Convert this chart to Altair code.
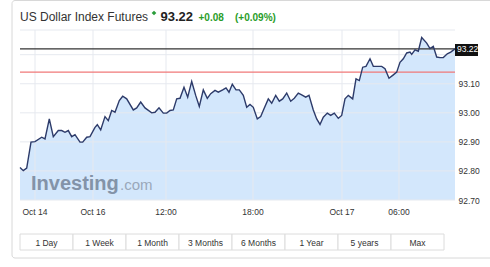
import altair as alt
import pandas as pd

# ---- data ----
t = [0, 3.3, 6.7, 11, 15, 21.7, 25, 29.3, 33.3, 38.3, 41.7, 45, 48.3, 51.7, 55,
     60, 62.7, 66.7, 70, 75, 77.3, 80.7, 85, 88.3, 91.7, 95, 99.3, 102.7, 106.7, 113.3,
     116.7, 120.7, 125, 131.7, 135, 139, 143.3, 146.7, 150, 153.3, 156.7, 160, 164, 167.7, 171.7,
     175.7, 179.3, 183.3, 187.3, 190.7, 195, 198.3, 202.7, 206, 209, 212.3, 216, 219.3,
     223.3, 226.7, 230, 233.3, 237.3, 240.7, 244, 248.3, 251.7, 255.7, 259.3, 262.7, 266.7, 270.7,
     274.3, 278.3, 281.7, 285.7, 289, 293.3, 296.7, 300, 303.3, 307.3, 310.7, 314.3, 318.3, 321.7,
     325, 328.3, 332.7, 336, 339.3, 342.7, 346, 350, 353.3, 357.3, 361.7, 365, 369, 372.7, 376.7,
     380, 383.3, 386.7, 390, 391.7, 395, 398.3, 401.7, 406.7, 410, 413.3, 416.7, 420, 423.3, 427.3,
     430.7, 435]
price = [92.812, 92.801, 92.810, 92.899, 92.901, 92.916, 92.910, 92.979, 92.918, 92.939,
         92.939, 92.933, 92.939, 92.918, 92.925, 92.899, 92.899, 92.916, 92.918, 92.950,
         92.959, 92.941, 92.987, 92.973, 93.008, 93.002, 93.042, 93.057, 93.048, 93.010,
         93.017, 93.037, 93.017, 93.000, 93.002, 93.017, 92.999, 92.999, 93.008, 93.010,
         93.048, 93.050, 93.088, 93.054, 93.108, 93.060, 93.022, 93.079, 93.050, 93.066,
         93.077, 93.071, 93.079, 93.086, 93.071, 93.098, 93.079, 93.079,
         93.060, 93.019, 93.029, 93.019, 92.979, 92.987, 93.014, 93.048, 93.033, 93.060,
         93.040, 93.048, 93.068, 93.040, 93.050, 93.068, 93.062, 93.054, 93.060, 93.010,
         92.979, 92.960, 92.985, 92.999, 92.991, 92.999, 92.981, 92.991, 93.048, 93.060,
         93.048, 93.117, 93.111, 93.157, 93.160, 93.186, 93.160, 93.160, 93.160, 93.152,
         93.119, 93.129, 93.140, 93.174, 93.186, 93.206, 93.209, 93.201, 93.217, 93.212,
         93.259, 93.240, 93.221, 93.229, 93.192, 93.190, 93.190, 93.203, 93.209, 93.220]

tick_pos = [15, 73, 146, 233, 322, 379]
tick_labels = ["Oct 14", "Oct 16", "12:00", "18:00", "Oct 17", "06:00"]
y_labels = [92.70, 92.80, 92.90, 93.00, 93.10]
y_grid = [92.70, 92.80, 92.90, 93.00, 93.10, 93.20]
last_price = 93.22
prev_close = 93.14
buttons = ["1 Day", "1 Week", "1 Month", "3 Months", "6 Months", "1 Year", "5 years", "Max"]

W, H = 435, 170
FONT = "Liberation Sans"
df = pd.DataFrame({"t": t, "price": price})
xs = alt.Scale(domain=[0, 435], nice=False, zero=False)
ys = alt.Scale(domain=[92.70, 93.285], nice=False, zero=False)
yaxis = alt.Axis(orient="right", values=y_labels, format=".2f", grid=False,
                 domain=False, ticks=False, labelPadding=3, labelFontSize=8.5,
                 labelColor="#333", labelFont=FONT, title=None)


def X(f):
    return alt.X(f, scale=xs, axis=None)


def Y(f):
    return alt.Y(f, scale=ys, axis=yaxis)


area = alt.Chart(df).mark_area(color="#d3e7fc", opacity=1).encode(
    x=X("t:Q"), y=Y("price:Q"), y2=alt.datum(92.70))

hgrid = alt.Chart(pd.DataFrame({"v": y_grid})).mark_rule(color="#e6e9ef", strokeWidth=1).encode(
    y=Y("v:Q"), x=alt.value(0), x2=alt.value(W))
topline = alt.Chart(pd.DataFrame({"v": [0]})).mark_rule(color="#e6e9ef").encode(
    y=alt.value(0), x=alt.value(0), x2=alt.value(W))
vgrid = alt.Chart(pd.DataFrame({"p": tick_pos})).mark_rule(color="#e6e9ef").encode(
    x=X("p:Q"), y=alt.value(0), y2=alt.value(H))
xlab = alt.Chart(pd.DataFrame({"p": tick_pos, "l": tick_labels})).mark_text(
    font=FONT, fontSize=8.5, color="#333", baseline="middle", align="center").encode(
    x=X("p:Q"), y=alt.value(H + 12), text="l:N")

line = alt.Chart(df).mark_line(color="#2d3b6a", strokeWidth=1.4).encode(
    x=X("t:Q"), y=Y("price:Q"))

red = alt.Chart(pd.DataFrame({"v": [prev_close]})).mark_rule(color="#f07878", strokeWidth=1.2).encode(
    y=Y("v:Q"), x=alt.value(0), x2=alt.value(W))
black = alt.Chart(pd.DataFrame({"v": [last_price]})).mark_rule(color="#333", strokeWidth=1.4).encode(
    y=Y("v:Q"), x=alt.value(0), x2=alt.value(W))
badge = alt.Chart(pd.DataFrame({"v": [last_price]})).mark_rect(color="#111").encode(
    x=alt.value(W), x2=alt.value(W + 23),
    y=alt.value(14), y2=alt.value(26))
badge_t = alt.Chart(pd.DataFrame({"v": [last_price], "s": ["93.22"]})).mark_text(
    font=FONT, fontSize=8.5, color="white", align="left", baseline="middle").encode(
    x=alt.value(W + 2), y=Y("v:Q"), text="s:N")

wm1 = alt.Chart(pd.DataFrame({"s": ["Investing"]})).mark_text(
    font=FONT, fontSize=20, fontWeight="bold", color="#8393a8", align="left",
    baseline="alphabetic").encode(x=alt.value(11), y=alt.value(160), text="s:N")
wm2 = alt.Chart(pd.DataFrame({"s": [".com"]})).mark_text(
    font=FONT, fontSize=15, color="#9aa8ba", align="left",
    baseline="alphabetic").encode(x=alt.value(100), y=alt.value(160), text="s:N")

frame = alt.Chart(pd.DataFrame({"a": [0]})).mark_rect(
    fill=None, stroke="#d8d8d8", strokeWidth=1, cornerRadius=3).encode(
    x=alt.value(-8), x2=alt.value(475), y=alt.value(-29.5), y2=alt.value(228))

title1 = alt.Chart(pd.DataFrame({"s": ["US Dollar Index Futures"]})).mark_text(
    font=FONT, fontSize=12, color="#333", align="left", baseline="alphabetic").encode(
    x=alt.value(0), y=alt.value(-9.5), text="s:N")
dot = alt.Chart(pd.DataFrame({"a": [0]})).mark_point(
    shape="diamond", filled=True, color="#2a9d3a", size=22, opacity=1).encode(
    x=alt.value(134), y=alt.value(-17))
title2 = alt.Chart(pd.DataFrame({"s": ["93.22"]})).mark_text(
    font=FONT, fontSize=13, fontWeight="bold", color="#222", align="left",
    baseline="alphabetic").encode(x=alt.value(140.5), y=alt.value(-9.5), text="s:N")
title3 = alt.Chart(pd.DataFrame({"s": ["+0.08"]})).mark_text(
    font=FONT, fontSize=10, fontWeight="bold", color="#2a9d2a", align="left",
    baseline="alphabetic").encode(x=alt.value(178.5), y=alt.value(-9.5), text="s:N")
title4 = alt.Chart(pd.DataFrame({"s": ["(+0.09%)"]})).mark_text(
    font=FONT, fontSize=10, fontWeight="bold", color="#2a9d2a", align="left",
    baseline="alphabetic").encode(x=alt.value(215), y=alt.value(-9.5), text="s:N")

bw = 53
bdf = pd.DataFrame({"b": buttons,
                    "x0": [i * bw for i in range(len(buttons))],
                    "x1": [(i + 1) * bw for i in range(len(buttons))],
                    "xc": [i * bw + bw / 2 for i in range(len(buttons))]})
brect = alt.Chart(bdf).mark_rect(fill="white", stroke="#dcdcdc", strokeWidth=1).encode(
    x=X("x0:Q"), x2="x1:Q", y=alt.value(204), y2=alt.value(220))
btext = alt.Chart(bdf).mark_text(font=FONT, fontSize=8.5, color="#333",
                                 baseline="middle", align="center").encode(
    x=X("xc:Q"), y=alt.value(212.5), text="b:N")

chart = alt.layer(
    frame, area, hgrid, topline, vgrid, wm1, wm2, red, black, line, badge, badge_t,
    xlab, title1, dot, title2, title3, title4, brect, btext
).properties(
    width=W, height=H,
    autosize=alt.AutoSizeParams(type="none"),
    padding={"left": 20, "top": 30, "right": 35, "bottom": 67},
    background="white",
).configure_view(stroke=None)

chart.save("out.html", embed_options={"renderer": "svg", "actions": False})
